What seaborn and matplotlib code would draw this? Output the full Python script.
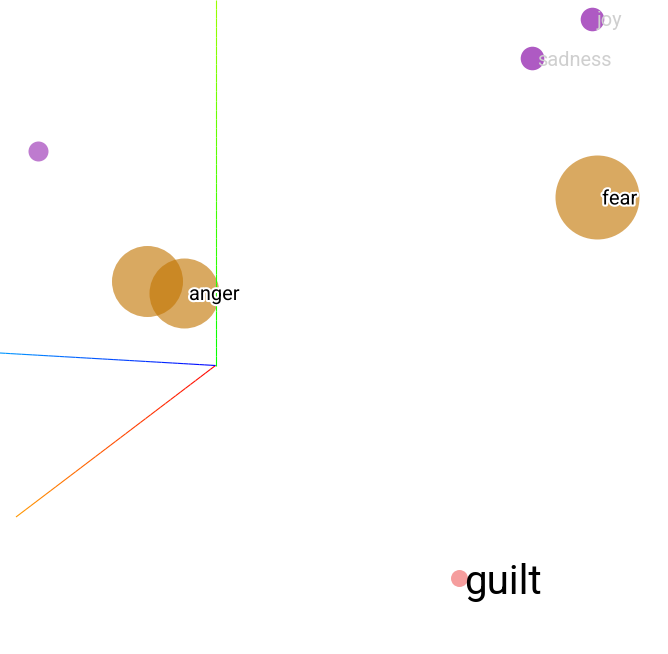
import numpy as np
import matplotlib
matplotlib.use("Agg")
import matplotlib.pyplot as plt
import matplotlib.patheffects as pe
from matplotlib.collections import LineCollection
import seaborn as sns

# ---------- DATA (projected scene coordinates, px) ----------
labels = ["joy", "sadness", "", "fear", "", "anger", "guilt"]
px = [591.5, 532, 37.5, 597, 146.5, 184, 459]
py = [18.5, 58, 151, 197, 281, 292.5, 578]
radius = [11.8, 11.8, 10, 42, 35.5, 35, 8.5]
emotion = ["joy", "sadness", "joy", "fear", "anger", "anger", "guilt"]

# axis helper: origin and the three far ends
origin = (215.5, 365.5)
x_end = (16, 517)
y_end = (215.5, 0)
z_end = (0, 353)

# ---------- STYLE ----------
sns.set_style("white")
plt.rcParams["font.family"] = ["Roboto", "DejaVu Sans"]

point_color = {"joy": "#a548bd", "sadness": "#a548bd", "fear": "#c27400",
               "anger": "#c27400", "guilt": "#f48c8c"}
point_alpha = [0.9, 0.9, 0.72, 0.62, 0.62, 0.62, 0.85]
label_color = {"joy": "#cfcfcf", "sadness": "#cfcfcf", "fear": "black",
               "anger": "black", "guilt": "black"}
label_size = {"joy": 14.4, "sadness": 14.4, "fear": 14.4, "anger": 14.4, "guilt": 29}
label_dy = {"joy": 2, "sadness": 2, "fear": 2, "anger": 2, "guilt": 4}

dpi = 100
fig = plt.figure(figsize=(6.68, 6.54), dpi=dpi)
ax = fig.add_axes([0, 0, 1, 1])
ax.set_xlim(0, 668)
ax.set_ylim(654, 0)
ax.axis("off")

# ---------- POINTS ----------
for i in range(len(px)):
    s = (2 * radius[i] * 72 / dpi) ** 2
    sns.scatterplot(x=[px[i]], y=[py[i]], s=s, color=point_color[emotion[i]],
                    alpha=point_alpha[i], linewidth=0, ax=ax, zorder=2)


# ---------- AXIS HELPER LINES (gradient) ----------
def grad_line(p0, p1, c0, c1, n=40):
    t = np.linspace(0, 1, n + 1)
    xs = p0[0] + (p1[0] - p0[0]) * t
    ys = p0[1] + (p1[1] - p0[1]) * t
    segs = [[(xs[k], ys[k]), (xs[k + 1], ys[k + 1])] for k in range(n)]
    c0, c1 = np.array(c0), np.array(c1)
    cols = [c0 + (c1 - c0) * (k + 0.5) / n for k in range(n)]
    ax.add_collection(LineCollection(segs, colors=cols, linewidths=0.8,
                                     capstyle="butt", zorder=3))


grad_line(origin, x_end, (1, 0, 0), (1, 0.6, 0))
grad_line(origin, y_end, (0, 1, 0), (0.6, 1, 0))
grad_line(origin, z_end, (0, 0, 1), (0, 0.6, 1))

# ---------- LABELS ----------
for i in range(len(px)):
    if not labels[i]:
        continue
    e = emotion[i]
    kw = {}
    if label_color[e] == "black" and e != "guilt":
        kw["path_effects"] = [pe.withStroke(linewidth=3, foreground="white")]
    ax.text(px[i] + 5, py[i] + label_dy[e], labels[i], color=label_color[e],
            fontsize=label_size[e], va="center", ha="left", zorder=4, **kw)

fig.savefig("out.png", dpi=dpi)
